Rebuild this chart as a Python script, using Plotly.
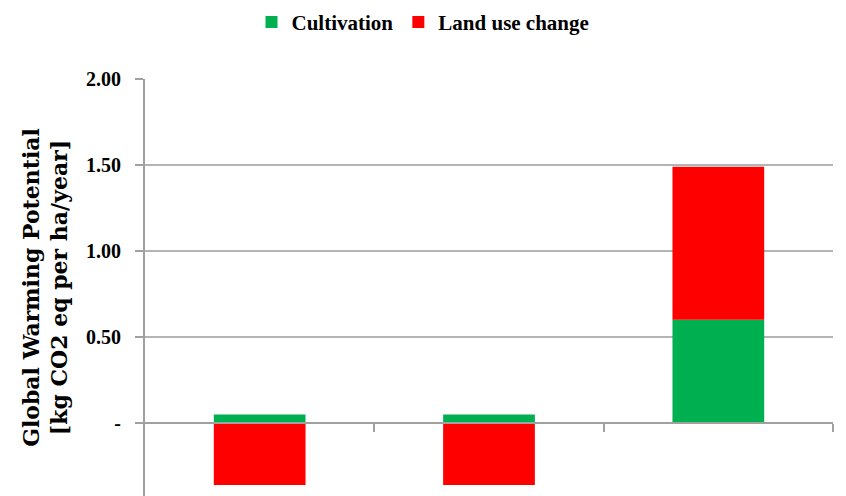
import plotly.graph_objects as go

categories = ["Scenario 1", "Scenario 2", "Scenario 3"]
cultivation = [0.05, 0.05, 0.60]
land_use_change = [-0.36, -0.36, 0.89]
y_tickvals = [0, 0.5, 1.0, 1.5, 2.0]
y_ticktext = ["-", "0.50", "1.00", "1.50", "2.00"]

Y_MIN, Y_MAX = -0.424, 2.0
FONT = "Liberation Serif"

fig = go.Figure()
fig.add_trace(go.Bar(name="Cultivation", x=categories, y=cultivation,
                     marker=dict(color="#00B050", line=dict(width=0))))
fig.add_trace(go.Bar(name="Land use change", x=categories, y=land_use_change,
                     marker=dict(color="#FF0000", line=dict(width=0))))

# helper trace for a category axis drawn at y=0 with boundary ticks
fig.add_trace(go.Scatter(x=[-0.5, 2.5], y=[0, 0], xaxis="x2", mode="lines",
                         line=dict(width=0), showlegend=False, hoverinfo="skip"))

zero_pos = (0 - Y_MIN) / (Y_MAX - Y_MIN)

fig.update_layout(
    width=846, height=496,
    margin=dict(l=145, r=13, t=79, b=0),
    barmode="relative",
    bargap=0.6,
    plot_bgcolor="white",
    paper_bgcolor="white",
    font=dict(family=FONT, size=18, color="black"),
    legend=dict(orientation="h", xref="container", yref="container",
                x=0.5, xanchor="center", y=0.955, yanchor="middle",
                font=dict(family=FONT, size=21, color="black", weight="bold"),
                itemwidth=30, tracegroupgap=0),
    xaxis=dict(showticklabels=False, showgrid=False, zeroline=False,
               showline=False, ticks=""),
    xaxis2=dict(overlaying="x", anchor="free", position=zero_pos,
                range=[-0.5, 2.5], tickvals=[0.5, 1.5, 2.5],
                showticklabels=False, showgrid=False, zeroline=False,
                showline=True, linecolor="#A0A0A0", linewidth=2,
                ticks="outside", ticklen=8, tickwidth=1.5, tickcolor="#A0A0A0"),
    yaxis=dict(range=[Y_MIN, Y_MAX], tickvals=y_tickvals, ticktext=y_ticktext,
               showgrid=True, gridcolor="#B4B4B4", gridwidth=2,
               zeroline=False, showline=True, linecolor="#A0A0A0", linewidth=2,
               ticks="outside", ticklen=8, tickwidth=1.5, tickcolor="#A0A0A0",
               ticklabelstandoff=10,
               tickfont=dict(family=FONT, size=20, color="black", weight="bold"),
               title=dict(text="Global Warming Potential<br>[kg CO2 eq per ha/year]",
                          font=dict(family="DejaVu Serif", size=22, color="black",
                                    weight="bold"),
                          standoff=12)),
)

fig.write_html("out.html")
